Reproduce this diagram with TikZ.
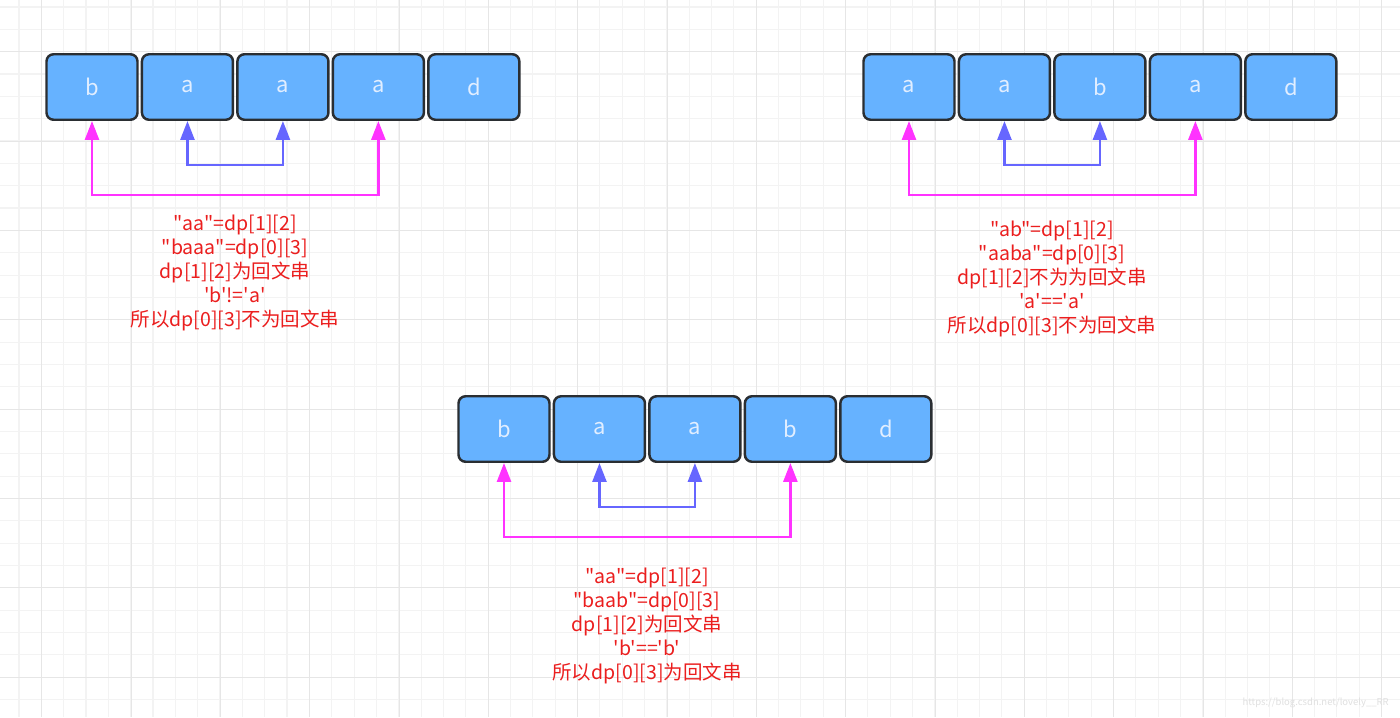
\documentclass[tikz,border=0pt]{standalone}
\usepackage{fontspec}
\newfontfamily\cjk{Noto Sans CJK SC}
\usetikzlibrary{arrows.meta, positioning}

\definecolor{cellblue}{RGB}{102,178,255}
\definecolor{celledge}{RGB}{42,46,50}
\definecolor{celltext}{RGB}{225,238,255}
\definecolor{outerpink}{RGB}{255,51,255}
\definecolor{innerblue}{RGB}{102,102,255}
\definecolor{notered}{RGB}{235,30,30}
\definecolor{gridminor}{RGB}{243,243,243}
\definecolor{gridmajor}{RGB}{230,230,230}

\begin{document}
\begin{tikzpicture}[
    cell/.style = {
        rectangle,
        rounded corners=4pt,
        draw=celledge,
        line width=1.4pt,
        fill=cellblue,
        text=celltext,
        minimum width=1.82cm,
        minimum height=1.31cm,
        inner sep=0pt,
        font=\cjk\fontsize{12.5}{14}\selectfont
    },
    node distance=0.04cm,
    outer ptr/.style = {<->, >={Triangle[length=0.38cm, width=0.28cm]}, line width=1.5pt, outerpink},
    inner ptr/.style = {<->, >={Triangle[length=0.38cm, width=0.28cm]}, line width=1.5pt, innerblue},
    note/.style = {align=center, text=notered, inner sep=0pt, font=\cjk\fontsize{11.1}{13.66}\selectfont},
    blog url/.style = {text=black!12, inner sep=0pt, font=\cjk\fontsize{5.4}{6}\selectfont}
]

\useasboundingbox[fill=white] (0,0) rectangle (28,-14.34);

% background grid
\draw[gridminor, line width=0.6pt, shift={(0.38,-0.14)}, step=0.4467] (-0.38,-14.2) grid (27.62,0.14);
\draw[gridmajor, line width=0.6pt, shift={(0.834,-1.034)}, step=1.7867] (-0.834,-13.3) grid (27.166,1.034);

% case 1: b a a a d
\node [cell] (a1) at (1.84,-1.74) {b};
\node [cell, right=of a1] (a2) {a};
\node [cell, right=of a2] (a3) {a};
\node [cell, right=of a3] (a4) {a};
\node [cell, right=of a4] (a5) {d};

\draw[outer ptr] (a1.south) -- ++(0,-1.48) -| (a4.south);
\draw[inner ptr] (a2.south) -- ++(0,-0.88) -| (a3.south);

\node [note] (noteA) at (4.70,-5.45) {"aa"=dp[1][2]\\
    "baaa"=dp[0][3]\\
    dp[1][2]为回文串\\
    'b'!='a'\\
    所以dp[0][3]不为回文串};

% case 2: a a b a d
\node [cell] (b1) at (18.18,-1.74) {a};
\node [cell, right=of b1] (b2) {a};
\node [cell, right=of b2] (b3) {b};
\node [cell, right=of b3] (b4) {a};
\node [cell, right=of b4] (b5) {d};

\draw[outer ptr] (b1.south) -- ++(0,-1.48) -| (b4.south);
\draw[inner ptr] (b2.south) -- ++(0,-0.88) -| (b3.south);

\node [note] (noteB) at (21.04,-5.58) {"ab"=dp[1][2]\\
    "aaba"=dp[0][3]\\
    dp[1][2]不为为回文串\\
    'a'=='a'\\
    所以dp[0][3]不为回文串};

% case 3: b a a b d
\node [cell] (c1) at (10.08,-8.58) {b};
\node [cell, right=of c1] (c2) {a};
\node [cell, right=of c2] (c3) {a};
\node [cell, right=of c3] (c4) {b};
\node [cell, right=of c4] (c5) {d};

\draw[outer ptr] (c1.south) -- ++(0,-1.48) -| (c4.south);
\draw[inner ptr] (c2.south) -- ++(0,-0.88) -| (c3.south);

\node [note] (noteC) at (12.94,-12.51) {"aa"=dp[1][2]\\
    "baab"=dp[0][3]\\
    dp[1][2]为回文串\\
    'b'=='b'\\
    所以dp[0][3]为回文串};

\node [blog url, anchor=east] (url) at (27.78,-14.06) {https://blog.csdn.net/lovely\_\_RR};

\end{tikzpicture}
\end{document}
